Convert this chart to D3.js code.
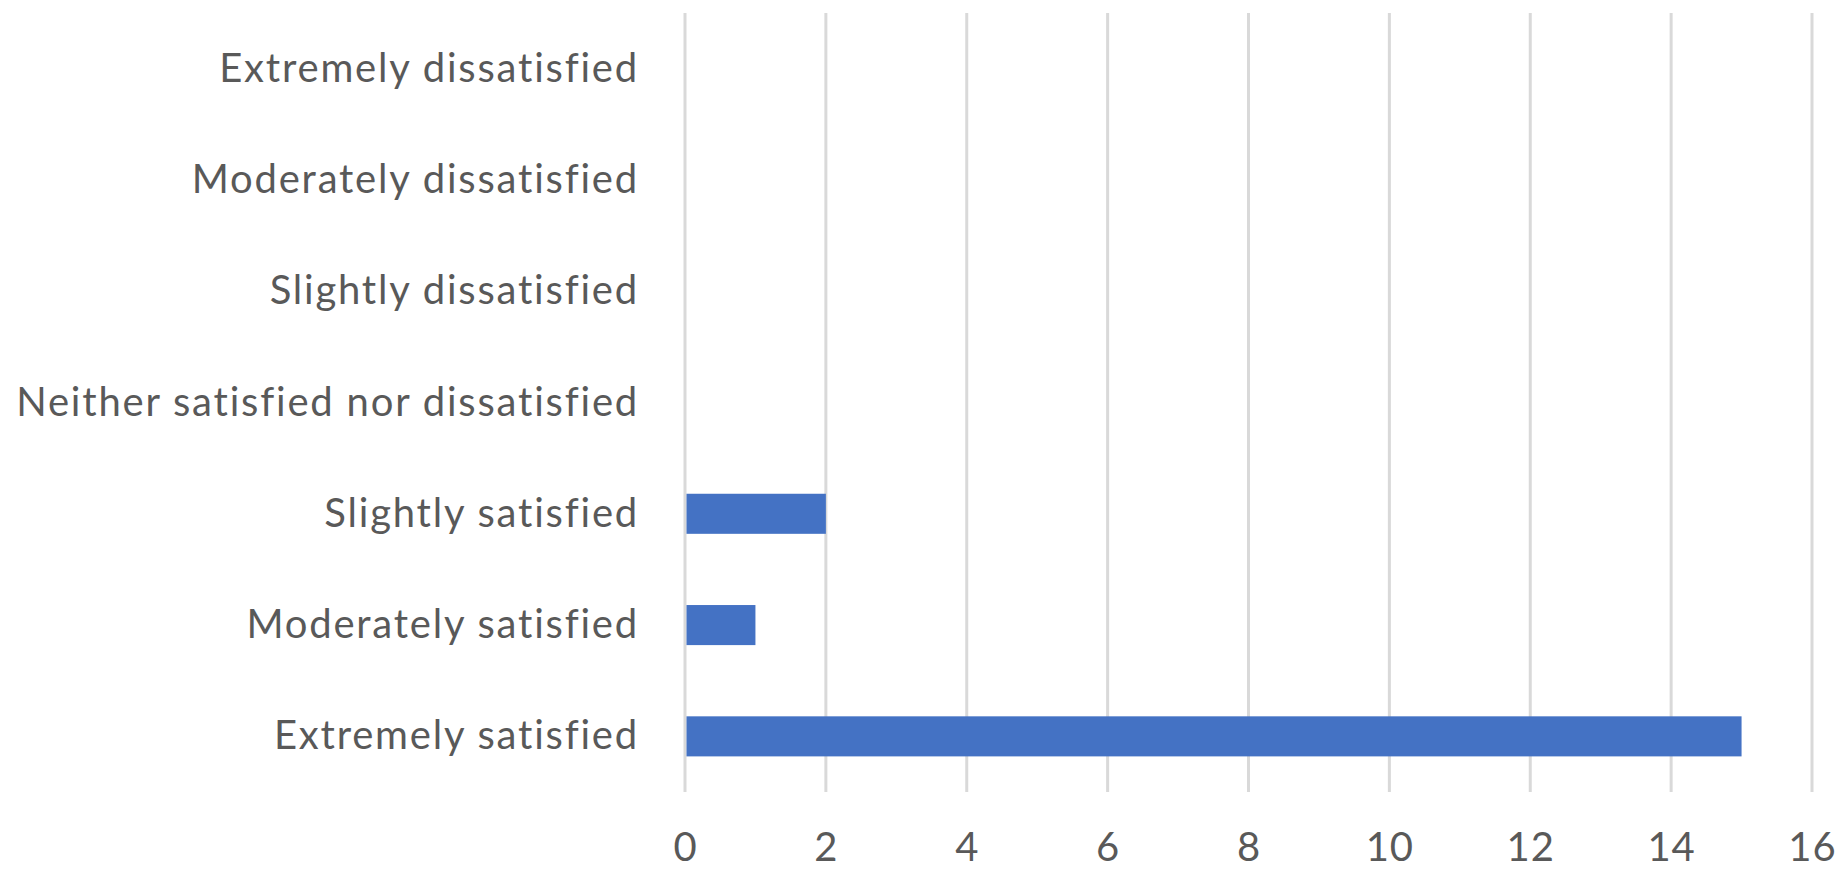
<!DOCTYPE html>
<html>
<head>
<meta charset="utf-8">
<script src="https://cdn.jsdelivr.net/npm/d3@7"></script>
<style>
  html, body { margin: 0; padding: 0; background: #ffffff; }
  svg { display: block; }
  text { font-family: Lato, "Open Sans", sans-serif; fill: #595959; }
</style>
</head>
<body>
<svg id="chart" width="1843" height="870"></svg>
<script>
// Survey responses: satisfaction level and number of respondents
const categories = [
  "Extremely dissatisfied",
  "Moderately dissatisfied",
  "Slightly dissatisfied",
  "Neither satisfied nor dissatisfied",
  "Slightly satisfied",
  "Moderately satisfied",
  "Extremely satisfied"
];
const counts = [0, 0, 0, 0, 2, 1, 15];
const xTicks = [0, 2, 4, 6, 8, 10, 12, 14, 16];

const svg = d3.select("#chart");
const margin = { top: 13, right: 31, bottom: 78, left: 685 };
const width = 1843 - margin.left - margin.right;
const height = 870 - margin.top - margin.bottom;

const x = d3.scaleLinear().domain([0, 16]).range([0, width]);
const y = d3.scaleBand()
  .domain(categories)
  .range([0, height])
  .paddingInner(0.64)
  .paddingOuter(0.32);

const g = svg.append("g").attr("transform", `translate(${margin.left},${margin.top})`);

// vertical gridlines
g.selectAll("line.grid")
  .data(xTicks)
  .join("line")
  .attr("class", "grid")
  .attr("x1", d => x(d)).attr("x2", d => x(d))
  .attr("y1", 0).attr("y2", height)
  .attr("stroke", "#d9d9d9")
  .attr("stroke-width", 3);

// bars
g.selectAll("rect.bar")
  .data(categories.map((c, i) => ({ c, v: counts[i] })).filter(d => d.v > 0))
  .join("rect")
  .attr("class", "bar")
  .attr("x", x(0) + 1.5)
  .attr("y", d => y(d.c))
  .attr("width", d => x(d.v) - x(0) - 1.5)
  .attr("height", y.bandwidth())
  .attr("fill", "#4472c4");

// x axis labels
const xAxis = d3.axisBottom(x).tickValues(xTicks).tickSize(0).tickPadding(0);
const xg = g.append("g").attr("transform", `translate(0,${height})`).call(xAxis);
xg.select(".domain").remove();
xg.selectAll("text")
  .attr("y", 69)
  .attr("dy", null)
  .style("font-size", "40px")
  .style("font-family", "Lato, 'Open Sans', sans-serif")
  .style("letter-spacing", "1px")
  .attr("fill", "#595959");

// category labels
const yAxis = d3.axisLeft(y).tickSize(0).tickPadding(0);
const yg = g.append("g").attr("transform", "translate(-46,0)").call(yAxis);
yg.select(".domain").remove();
yg.selectAll("text")
  .attr("dy", "13px")
  .style("font-size", "40px")
  .style("font-family", "Lato, 'Open Sans', sans-serif")
  .style("letter-spacing", "1.8px")
  .attr("fill", "#595959");
</script>
</body>
</html>
